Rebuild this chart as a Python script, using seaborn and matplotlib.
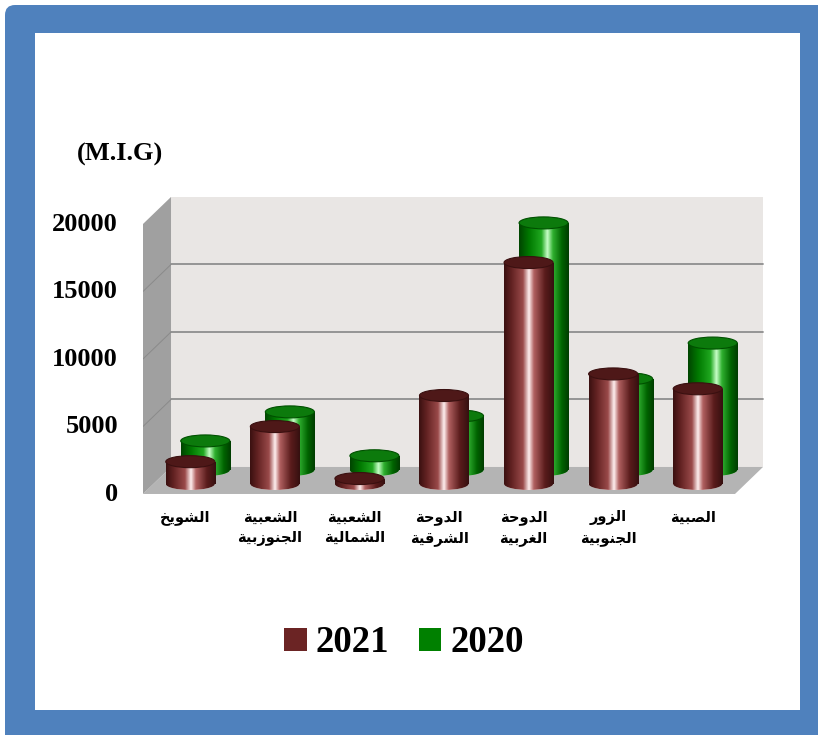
import numpy as np
import matplotlib
matplotlib.use("Agg")
import matplotlib.pyplot as plt
import matplotlib.transforms as mtransforms
from matplotlib.colors import LinearSegmentedColormap
from matplotlib.patches import Ellipse, Polygon, Rectangle, FancyBboxPatch, Patch
import seaborn as sns

# ---- data ----
areas = ["الشويخ", "الشعبية الجنوزبية", "الشعبية الشمالية", "الدوحة الشرقية",
         "الدوحة الغربية", "الزور الجنوبية", "الصبية"]
v2021 = [1650, 4250, 400, 6550, 16400, 8150, 7050]
v2020 = [2150, 4300, 1050, 4000, 18300, 6750, 9400]
years = ["2021", "2020"]
yticks = [0, 5000, 10000, 15000, 20000]
unit = "(M.I.G)"

MAROON = "#6B2424"
GREEN = "#008000"

# ---- minimal arabic shaping, matplotlib draws glyphs unjoined and LTR ----
# (isolated, final, initial, medial)
FORMS = {
    "ا": ("\uFE8D", "\uFE8E", None, None),
    "ب": ("\uFE8F", "\uFE90", "\uFE91", "\uFE92"),
    "ة": ("\uFE93", "\uFE94", None, None),
    "ج": ("\uFE9D", "\uFE9E", "\uFE9F", "\uFEA0"),
    "ح": ("\uFEA1", "\uFEA2", "\uFEA3", "\uFEA4"),
    "خ": ("\uFEA5", "\uFEA6", "\uFEA7", "\uFEA8"),
    "د": ("\uFEA9", "\uFEAA", None, None),
    "ر": ("\uFEAD", "\uFEAE", None, None),
    "ز": ("\uFEAF", "\uFEB0", None, None),
    "ش": ("\uFEB5", "\uFEB6", "\uFEB7", "\uFEB8"),
    "ص": ("\uFEB9", "\uFEBA", "\uFEBB", "\uFEBC"),
    "ع": ("\uFEC9", "\uFECA", "\uFECB", "\uFECC"),
    "غ": ("\uFECD", "\uFECE", "\uFECF", "\uFED0"),
    "ق": ("\uFED5", "\uFED6", "\uFED7", "\uFED8"),
    "ل": ("\uFEDD", "\uFEDE", "\uFEDF", "\uFEE0"),
    "م": ("\uFEE1", "\uFEE2", "\uFEE3", "\uFEE4"),
    "ن": ("\uFEE5", "\uFEE6", "\uFEE7", "\uFEE8"),
    "و": ("\uFEED", "\uFEEE", None, None),
    "ي": ("\uFEF1", "\uFEF2", "\uFEF3", "\uFEF4"),
}


def shape(word):
    out = []
    for i, ch in enumerate(word):
        f = FORMS.get(ch)
        if f is None:
            out.append(ch)
            continue
        prev = FORMS.get(word[i - 1]) if i > 0 else None
        nxt = FORMS.get(word[i + 1]) if i < len(word) - 1 else None
        join_prev = prev is not None and prev[2] is not None
        join_next = nxt is not None and f[2] is not None
        if join_prev and join_next:
            out.append(f[3])
        elif join_prev:
            out.append(f[1])
        elif join_next:
            out.append(f[2])
        else:
            out.append(f[0])
    return "".join(reversed(out))


labels = ["\n".join(shape(w) for w in a.split(" ")) for a in areas]

sns.set_style("white")
plt.rcParams["font.family"] = ["Liberation Serif", "DejaVu Serif"]
plt.rcParams["text.color"] = "black"
plt.rcParams["xtick.color"] = "black"
plt.rcParams["ytick.color"] = "black"

fig = plt.figure(figsize=(8.18, 7.35), dpi=100, facecolor="white")

# blue frame around the chart
fig.add_artist(FancyBboxPatch((0.05, -0.5), 9.0, 7.80, boxstyle="round,pad=0,rounding_size=0.1",
                              transform=fig.dpi_scale_trans, fc="#4F81BD", ec="none", zorder=-10))
fig.add_artist(Rectangle((0.35, 0.25), 7.65, 6.77, transform=fig.dpi_scale_trans,
                         fc="white", ec="none", zorder=-9))

ax = fig.add_axes([0.17482, 0.32517, 0.75990, 0.41143])
ax.set_facecolor("none")

sns.barplot(x=labels, y=v2020, color=GREEN, width=0.58, errorbar=None, linewidth=0, ax=ax)
green_bars = list(ax.containers[-1])
sns.barplot(x=labels, y=v2021, color=MAROON, width=0.58, errorbar=None, linewidth=0, ax=ax)
maroon_bars = list(ax.containers[-1])

# ---- fake 3d box: floor, back wall, side wall ----
dx = 28 / 84.57
dy = 2000
f0 = -150
n = len(areas)
ax.add_patch(Rectangle((-0.5 + dx, f0 + dy), n, 20000, fc="#E9E6E4", ec="none", zorder=0.4))
ax.add_patch(Polygon([(-0.5, f0), (n - 0.5, f0), (n - 0.5 + dx, f0 + dy), (-0.5 + dx, f0 + dy)],
                     closed=True, fc="#B4B4B4", ec="none", zorder=0.5))
ax.add_patch(Polygon([(-0.5, f0), (-0.5 + dx, f0 + dy), (-0.5 + dx, f0 + dy + 20000), (-0.5, f0 + 20000)],
                     closed=True, fc="#A0A0A0", ec="none", zorder=0.6))
for v in yticks[1:4]:
    ax.plot([-0.5 + dx, n - 0.5 + dx], [f0 + dy + v] * 2, color="#8E8E8E", lw=1.3, zorder=0.7)
    ax.plot([-0.5, -0.5 + dx], [f0 + v, f0 + dy + v], color="#8A8A8A", lw=0.7, zorder=0.7)

# ---- cylinders ----
grad = np.linspace(0, 1, 256).reshape(1, -1)
cmap_m = LinearSegmentedColormap.from_list("m", [
    (0.0, "#3A1010"), (0.15, "#622222"), (0.38, "#9A4A4A"), (0.5, "#FFF0F0"),
    (0.6, "#B06060"), (0.82, "#5A1C1C"), (1.0, "#351010")])
cmap_g = LinearSegmentedColormap.from_list("g", [
    (0.0, "#004400"), (0.2, "#007800"), (0.45, "#20A820"), (0.57, "#C8FFC8"),
    (0.68, "#30B030"), (0.86, "#006400"), (1.0, "#003C00")])
eh = 12 / 0.0135


def cylinder(p, tr, cmap, top_color, edge, z):
    x, w, h = p.get_x(), p.get_width(), p.get_height()
    cx = x + w / 2
    p.set_transform(tr)
    p.set_zorder(z)
    base = Ellipse((cx, 0), w, eh, transform=tr, fc=cmap(0.5), ec="none", zorder=z)
    ax.add_patch(base)
    for clip in (base, p):
        im = ax.imshow(grad, cmap=cmap, extent=[x, x + w, -eh, h], aspect="auto",
                       transform=tr, zorder=z + 0.1, interpolation="bilinear")
        im.set_clip_path(clip)
    ax.add_patch(Ellipse((cx, h), w, eh, transform=tr, fc=top_color, ec=edge,
                         lw=0.8, zorder=z + 0.2))


tr_g = mtransforms.offset_copy(ax.transData, fig=fig, x=20, y=22, units="dots")
tr_m = mtransforms.offset_copy(ax.transData, fig=fig, x=5, y=8, units="dots")
for p in green_bars:
    cylinder(p, tr_g, cmap_g, "#0C7A0C", "#005000", 2)
for p in maroon_bars:
    cylinder(p, tr_m, cmap_m, "#4E1818", "#3A1010", 3)

ax.set_xlim(-0.5, n - 0.5 + 0.35)
ax.set_ylim(-300, 22100)
ax.set_yticks(yticks)
ax.set_yticklabels([str(v) for v in yticks], fontsize=19, fontweight="bold")
ax.set_xticks(range(n))
ax.set_xticklabels(labels, family=["DejaVu Sans"], fontsize=10.5, fontweight="bold", linespacing=1.45)
ax.tick_params(axis="y", length=0, pad=18)
ax.tick_params(axis="x", length=0, pad=10)
ax.set_xlabel("")
ax.set_ylabel("")
for s in ax.spines.values():
    s.set_visible(False)

fig.text(77 / 818, 1 - 154 / 735, unit, ha="left", va="center", fontsize=19, fontweight="bold")

handles = [Patch(facecolor=MAROON, edgecolor="none"), Patch(facecolor=GREEN, edgecolor="none")]
fig.legend(handles, years, loc="center", bbox_to_anchor=(404 / 818, 1 - 643 / 735), ncol=2,
           frameon=False, prop={"size": 26.5, "weight": "bold"}, handlelength=0.6,
           handleheight=0.6, handletextpad=0.25, columnspacing=0.8)

fig.savefig("out.png", dpi=100)
